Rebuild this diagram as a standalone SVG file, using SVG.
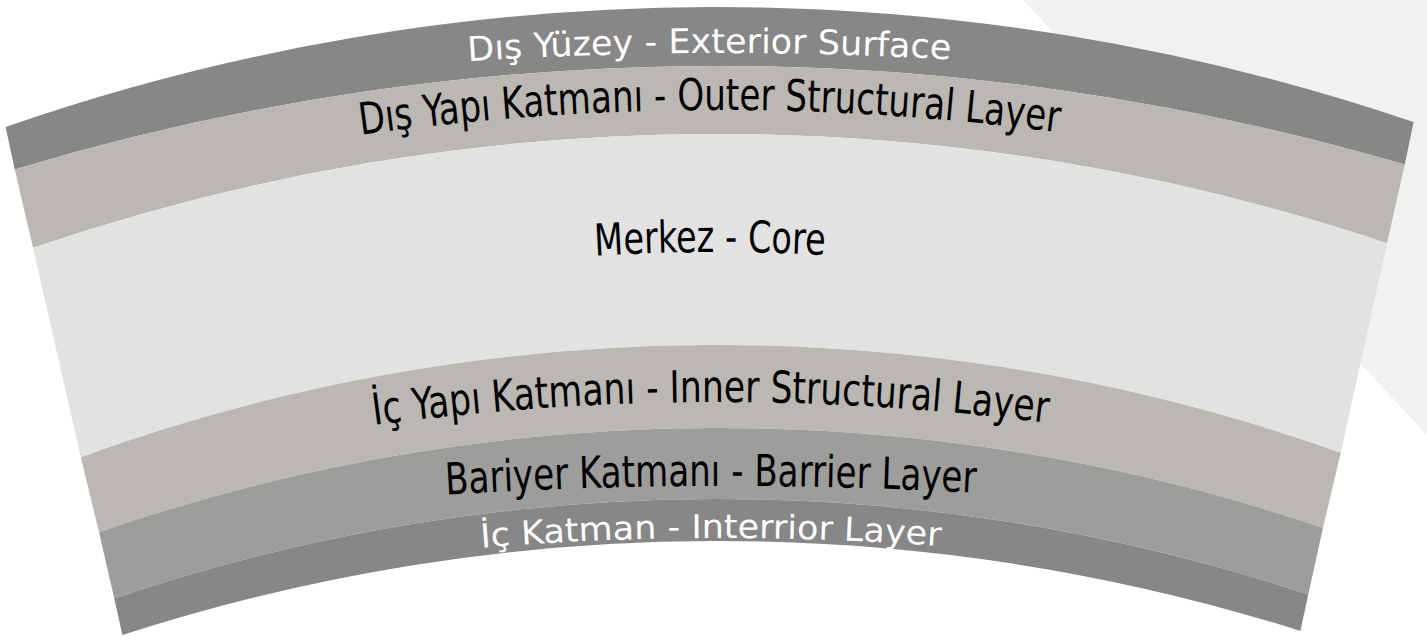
<svg xmlns="http://www.w3.org/2000/svg" width="1427" height="640" viewBox="0 0 1427 640">
<style>
.dark{fill:#878787}
.struct{fill:#bbb8b3}
.core{fill:#e2e2e2}
.barrier{fill:#9d9d9c}
.lbl{font-family:"DejaVu Sans Condensed","Liberation Sans Narrow",Roboto,"Liberation Sans",sans-serif;font-size:44px;text-anchor:middle}
.sm{font-size:34px}
.xs{font-size:33px}
.w{fill:#ffffff}
.b{fill:#000000}
</style>
<defs>
<path id="t1" d="M60.5,106.2 A4000,4000 0 0 1 1360.5,106.2"/>
<path id="t2" d="M60.5,192.6 A2600,2600 0 0 1 1360.5,192.6"/>
<path id="t3" d="M60.5,360.6 A2000,2000 0 0 1 1360.5,360.6"/>
<path id="t4" d="M60.5,484.6 A2600,2600 0 0 1 1360.5,484.6"/>
<path id="t5" d="M60.5,533.2 A4500,4500 0 0 1 1360.5,533.2"/>
<path id="t6" d="M60.5,609.3 A3000,3000 0 0 1 1360.5,609.3"/>
</defs>
<rect width="1427" height="640" fill="#ffffff"/>
<polygon points="1023,0 1427,0 1427,435" fill="#f1f1f1"/>
<g transform="rotate(-0.2 710.5 380)">
<g id="exterior-surface">
<path class="dark" d="M6.5,124.5 A2167.8,2167.8 0 0 1 1414.5,124.5 L1405.5,167 A2441,2441 0 0 0 15.5,167 Z"/>
<text class="lbl sm w"><textPath href="#t1" startOffset="50%" textLength="483" lengthAdjust="spacingAndGlyphs">Dış Yüzey - Exterior Surface</textPath></text>
</g>
<g id="outer-structural-layer">
<path class="struct" d="M15.5,167 A2441,2441 0 0 1 1405.5,167 L1387.5,245.5 A2111,2111 0 0 0 33.5,245.5 Z"/>
<text class="lbl b"><textPath href="#t2" startOffset="50%" textLength="700" lengthAdjust="spacingAndGlyphs">Dış Yapı Katmanı - Outer Structural Layer</textPath></text>
</g>
<g id="core">
<path class="core" d="M33.5,245.5 A2111,2111 0 0 1 1387.5,245.5 L1340.5,455 A1859,1859 0 0 0 80.5,455 Z"/>
<text class="lbl b"><textPath href="#t3" startOffset="50%" textLength="230" lengthAdjust="spacingAndGlyphs">Merkez - Core</textPath></text>
</g>
<g id="inner-structural-layer">
<path class="struct" d="M80.5,455 A1859,1859 0 0 1 1340.5,455 L1322.5,530 A1887,1887 0 0 0 98.5,530 Z"/>
<text class="lbl b"><textPath href="#t4" startOffset="50%" textLength="675" lengthAdjust="spacingAndGlyphs">İç Yapı Katmanı - Inner Structural Layer</textPath></text>
</g>
<g id="barrier-layer">
<path class="barrier" d="M98.5,530 A1887,1887 0 0 1 1322.5,530 L1307.5,596.5 A1876.5,1876.5 0 0 0 113.5,596.5 Z"/>
<text class="lbl b"><textPath href="#t5" startOffset="50%" textLength="530" lengthAdjust="spacingAndGlyphs">Bariyer Katmanı - Barrier Layer</textPath></text>
</g>
<g id="interior-layer">
<path class="dark" d="M113.5,596.5 A1876.5,1876.5 0 0 1 1307.5,596.5 L1299.5,633 A1931.4,1931.4 0 0 0 121.5,633 Z"/>
<text class="lbl xs w"><textPath href="#t6" startOffset="50%" textLength="460" lengthAdjust="spacingAndGlyphs">İç Katman - Interrior Layer</textPath></text>
</g>
</g>
<g id="connectors"/>
</svg>
